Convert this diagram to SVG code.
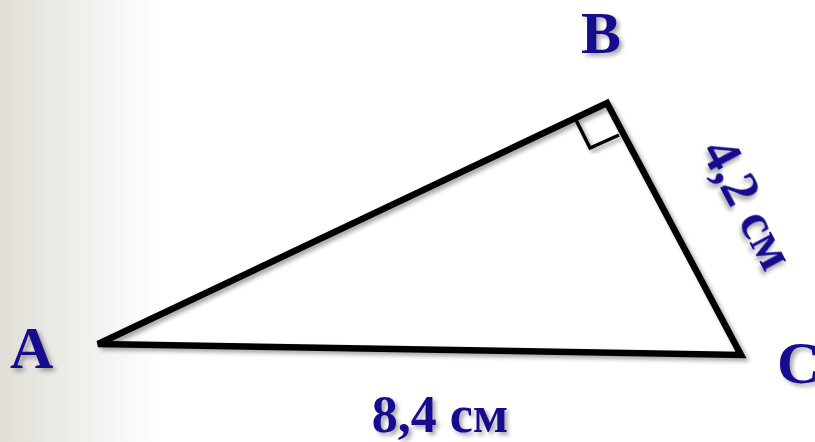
<svg xmlns="http://www.w3.org/2000/svg" width="815" height="442" viewBox="0 0 815 442">
<defs>
<linearGradient id="bg" x1="0" y1="0" x2="160" y2="0" gradientUnits="userSpaceOnUse">
<stop offset="0" stop-color="#E1DED7"/>
<stop offset="1" stop-color="#FFFFFF"/>
</linearGradient>
<filter id="sh" x="-20%" y="-20%" width="140%" height="140%">
<feDropShadow dx="3" dy="3" stdDeviation="2" flood-color="#000" flood-opacity="0.35"/>
</filter>
</defs>
<style>
.lbl{font-family:"Liberation Serif","Times New Roman",serif;font-weight:bold;fill:#170B8E;filter:url(#sh)}
.edge{fill:none;stroke:#000;stroke-width:6.5;stroke-linejoin:miter;filter:url(#sh)}
</style>
<rect x="0" y="0" width="815" height="442" fill="url(#bg)"/>
<g id="connectors">
<polygon class="edge" points="98,344 607,103 741,355"/>
<polyline id="right-angle" class="edge" style="stroke-width:3.5" points="576,120 590,148 619,135"/>
</g>
<g id="node-A"><text class="lbl" x="10" y="368" font-size="60">A</text></g>
<g id="node-B"><text class="lbl" x="581" y="53" font-size="60">B</text></g>
<g id="node-C"><text class="lbl" x="777" y="383" font-size="60">C</text></g>
<g id="label-AC"><text class="lbl" x="440" y="432" font-size="52" text-anchor="middle">8,4 см</text></g>
<g id="label-BC"><text class="lbl" font-size="53" text-anchor="middle" transform="translate(733,212) rotate(62)">4,2 см</text></g>
</svg>
